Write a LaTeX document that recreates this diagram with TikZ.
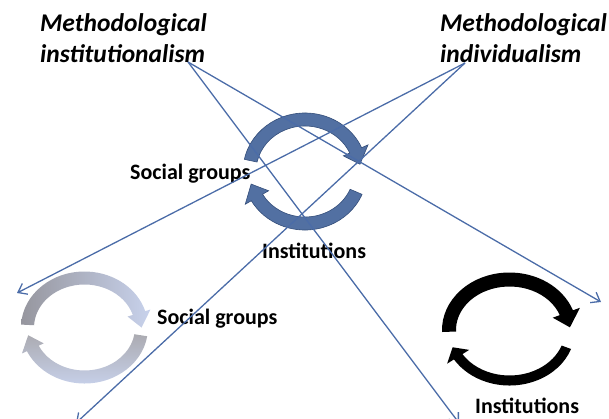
\documentclass[tikz,border=0pt]{standalone}
\usepackage{fontspec}
\setmainfont{Carlito}
\usetikzlibrary{arrows.meta}
\definecolor{lineblue}{RGB}{75,108,168}
\definecolor{cycblue}{RGB}{82,112,162}
\definecolor{cycbluedark}{RGB}{52,78,122}
\definecolor{cycgrey}{RGB}{150,150,158}
\definecolor{cyclight}{RGB}{200,210,236}
\newcommand\cycarrow[9]{%
  \pgfmathsetmacro\Rxo{#3+#5}\pgfmathsetmacro\Ryo{#4+#5}%
  \pgfmathsetmacro\Rxi{#3-#5}\pgfmathsetmacro\Ryi{#4-#5}%
  \pgfmathsetmacro\Hxo{#3+#6}\pgfmathsetmacro\Hyo{#4+#6}%
  \pgfmathsetmacro\Hxi{#3-#6}\pgfmathsetmacro\Hyi{#4-#6}%
  \path[#1, shift={#2}]
    (#7:{\Rxo} and {\Ryo})
    arc[start angle=#7, end angle=#8, x radius=\Rxo, y radius=\Ryo]
    -- (#8:{\Hxo} and {\Hyo})
    -- (#9:{#3} and {#4})
    -- (#8:{\Hxi} and {\Hyi})
    -- (#8:{\Rxi} and {\Ryi})
    arc[start angle=#8, end angle=#7, x radius=\Rxi, y radius=\Ryi]
    -- cycle;%
}
\begin{document}
\begin{tikzpicture}[x=1pt,y=1pt,
  title/.style={inner sep=0pt, anchor=base west, font=\fontsize{25.5}{30}\selectfont\bfseries\itshape},
  label/.style={inner sep=0pt, anchor=base west, font=\fontsize{22}{26}\selectfont\bfseries},
  conn/.style={draw=lineblue, line width=1.3pt, -{Straight Barb[length=8pt,width=12pt,line width=1.3pt]}},
  bluecyc/.style={fill=cycblue, draw=cycbluedark, line width=0.6pt},
  greytop/.style={left color=cycgrey, right color=cyclight},
  greybot/.style={top color=cycgrey!80, bottom color=cyclight, shading angle=0},
  blackcyc/.style={fill=black}]
\useasboundingbox (0,0) rectangle (609,418);

% titles
\node[title] (t1a) at (40,386) {Methodological};
\node[title] (t1b) at (40,355) {institutionalism};
\node[title] (t2a) at (440,386) {Methodological};
\node[title] (t2b) at (440,355) {individualism};

% cycles
\cycarrow{bluecyc}{(305,246.5)}{55.5}{52}{6.5}{13.5}{168}{24}{8}
\cycarrow{bluecyc}{(305,246.5)}{55.5}{52}{6.5}{13.5}{-23}{-150}{-166}
\cycarrow{greytop}{(84.5,90.5)}{57}{49.5}{6.5}{12}{177}{17}{0}
\cycarrow{greybot}{(84.5,90.5)}{57}{49.5}{6.5}{12}{-9}{-155}{-171}
\cycarrow{blackcyc}{(509.5,88)}{60.5}{50.5}{7}{14.5}{182}{20}{3}
\cycarrow{blackcyc}{(509.5,88)}{60.5}{50.5}{5}{13}{-20}{-148}{-160}

% labels
\node[label] (sg1) at (130,238) {Social groups};
\node[label] (in1) at (262,160) {Institutions};
\node[label] (sg2) at (157,94) {Social groups};
\node[label] (in2) at (475,5) {Institutions};

% connectors
\coordinate (inst) at (188,356);
\coordinate (indiv) at (465,355);
\coordinate (eA) at (459,-5);
\coordinate (eB) at (601,116);
\coordinate (eC) at (17,125);
\coordinate (eD) at (76,-5);
\draw[conn] (inst) -- (eA);
\draw[conn] (inst) -- (eB);
\draw[conn] (indiv) -- (eC);
\draw[conn] (indiv) -- (eD);
\end{tikzpicture}
\end{document}
